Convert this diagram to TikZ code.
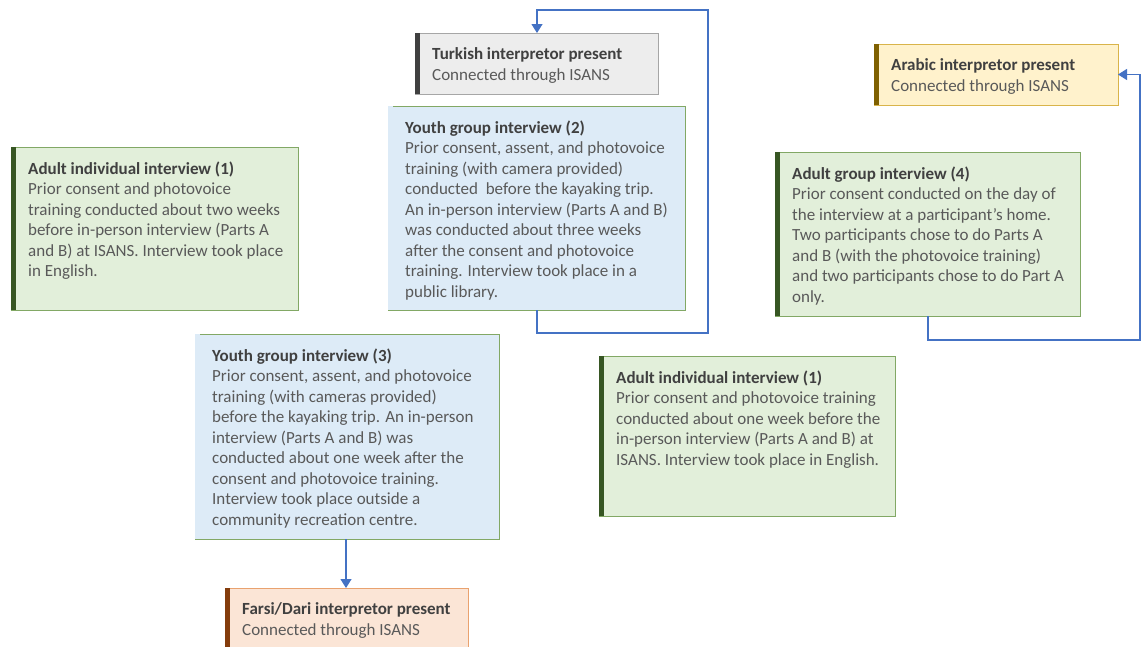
\documentclass[tikz,border=0pt]{standalone}
\usepackage{fontspec}
\setmainfont{Carlito}
\usetikzlibrary{arrows.meta,calc}
\definecolor{grfill}{HTML}{E2EFDA}
\definecolor{grline}{HTML}{82A865}
\definecolor{grbar}{HTML}{375623}
\definecolor{blfill}{HTML}{DDEBF7}
\definecolor{gyfill}{HTML}{EDEDED}
\definecolor{gyline}{HTML}{A6A6A6}
\definecolor{gybar}{HTML}{404040}
\definecolor{yefill}{HTML}{FFF2CC}
\definecolor{yeline}{HTML}{D9B44A}
\definecolor{yebar}{HTML}{7F6000}
\definecolor{orfill}{HTML}{FBE5D6}
\definecolor{orline}{HTML}{E9A26F}
\definecolor{orbar}{HTML}{843C0C}
\definecolor{conn}{HTML}{4472C4}
\definecolor{bodytext}{HTML}{595959}
\definecolor{titletext}{HTML}{404040}
\tikzset{
  box/.style={draw=#1, line width=0.9pt, inner sep=0pt, outer sep=0pt, anchor=north west},
  txt/.style={anchor=north west, inner sep=0pt, align=left, text=bodytext,
    font=\fontsize{17}{20.5}\selectfont},
  conline/.style={draw=conn, line width=1.2pt, -{Triangle[width=11pt,length=9pt]}},
}
\newcommand{\ttl}[1]{{\bfseries\color{titletext}#1}}
\newcommand{\mybox}[9]{% name, x, y, w, h, fill, line, bar, text
  \node[box=#7, fill=#6, minimum width=#4pt, minimum height=#5pt] (#1) at (#2,#3) {};
  \fill[#8] (#1.north west) rectangle ($(#1.south west)+(5,0)$);
  \node[txt] (#1t) at ($(#1.north west)+(17,14.5)$) {#9};
}
\begin{document}
\begin{tikzpicture}[x=1pt,y=-1pt]
\useasboundingbox (0,0) rectangle (1141,646);
\clip (0,0) rectangle (1141,646);
\fill[white] (0,0) rectangle (1141,646);

\mybox{turk}{415}{33}{243}{61}{gyfill}{gyline}{gybar}{\ttl{Turkish interpretor present}\\Connected through ISANS}
\mybox{arab}{874}{44}{244}{61}{yefill}{yeline}{yebar}{\ttl{Arabic interpretor present}\\Connected through ISANS}
\mybox{adA}{11}{147}{287}{163}{grfill}{grline}{grbar}{\ttl{Adult individual interview (1)}\\Prior consent and photovoice\\training conducted about two weeks\\before in-person interview (Parts A\\and B) at ISANS. Interview took place\\in English.}
\mybox{yth}{388}{106}{297}{204}{blfill}{grline}{blfill}{\ttl{Youth group interview (2)}\\Prior consent, assent, and photovoice\\training (with camera provided)\\conducted\ \ before the kayaking trip.\\An in-person interview (Parts A and B)\\was conducted about three weeks\\after the consent and photovoice\\training. Interview took place in a\\public library.}
\mybox{adg}{775}{152}{305}{164}{grfill}{grline}{grbar}{\ttl{Adult group interview (4)}\\Prior consent conducted on the day of\\the interview at a participant's home.\\Two participants chose to do Parts A\\and B (with the photovoice training)\\and two participants chose to do Part A\\only.}
\mybox{ytt}{195}{334}{304}{205}{blfill}{grline}{blfill}{\ttl{Youth group interview (3)}\\Prior consent, assent, and photovoice\\training (with cameras provided)\\before the kayaking trip. An in-person\\interview (Parts A and B) was\\conducted about one week after the\\consent and photovoice training.\\Interview took place outside a\\community recreation centre.}
\mybox{adB}{599}{356}{296}{160}{grfill}{grline}{grbar}{\ttl{Adult individual interview (1)}\\Prior consent and photovoice training\\conducted about one week before the\\in-person interview (Parts A and B) at\\ISANS. Interview took place in English.}
\mybox{fars}{225}{588}{243}{70}{orfill}{orline}{orbar}{\ttl{Farsi/Dari interpretor present}\\Connected through ISANS}

\draw[conline] (yth.south -| 537,0) |- (708,333) |- (537,10) -- (turk.north -| 537,0);
\draw[conline] (adg.south -| 928,0) |- (1140,340) |- (arab.east);
\draw[conline] (ytt.south -| 346,0) -- (fars.north -| 346,0);
\end{tikzpicture}
\end{document}
